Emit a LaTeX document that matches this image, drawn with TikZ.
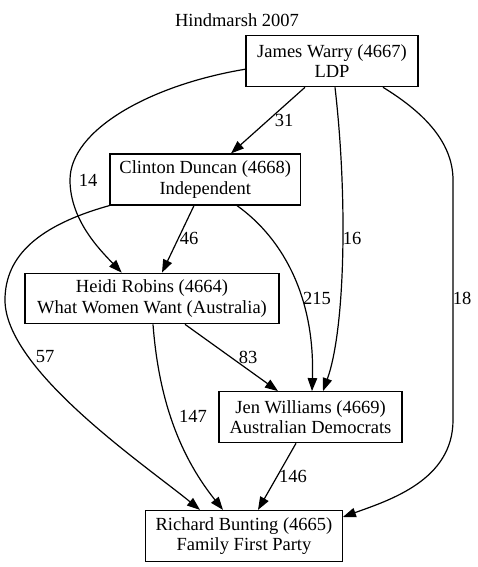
\documentclass[tikz,border=0pt]{standalone}
\usepackage{fontspec}
\setmainfont{Liberation Serif}
\usetikzlibrary{arrows.meta}
\begin{document}
\begin{tikzpicture}[x=1pt,y=-1pt,
  box/.style={draw, line width=1.2pt, inner sep=0pt, align=center, font=\fontsize{18.5}{20.5}\selectfont},
  lbl/.style={inner sep=0pt, font=\fontsize{18.5}{20.5}\selectfont},
  edge/.style={line width=1.2pt, -{Triangle[length=13pt,width=9.5pt]}}]
\useasboundingbox (0,0) rectangle (477,567);
\node[lbl] (title) at (237,20) {Hindmarsh 2007};
\node[box, minimum width=172pt, minimum height=51pt] (warry) at (332,61.2) {James Warry (4667)\\LDP};
\node[box, minimum width=190.7pt, minimum height=51pt] (clinton) at (205.3,179.5) {Clinton Duncan (4668)\\Independent};
\node[box, minimum width=254pt, minimum height=50.5pt] (heidi) at (152,298.5) {Heidi Robins (4664)\\What Women Want (Australia)};
\node[box, minimum width=183pt, minimum height=51pt] (jen) at (310.5,417.2) {Jen Williams (4669)\\Australian Democrats};
\node[box, minimum width=196.6pt, minimum height=51pt] (richard) at (244,536) {Richard Bunting (4665)\\Family First Party};

% Warry -> Clinton
\draw[edge] ([xshift=-27pt]warry.south) -- ([xshift=25.7pt]clinton.north);
\node[lbl] (l31) at (284,120) {31};
% Warry -> Heidi
\draw[edge] ([yshift=-8pt]warry.west) .. controls (150,85) and (70,130) .. (70,180)
  .. controls (70,220) and (100,250) .. ([xshift=-30.3pt]heidi.north);
\node[lbl] (l14) at (88,180) {14};
% Warry -> Jen
\draw[edge] ([xshift=3pt]warry.south) .. controls (348,200) and (345,330) .. ([xshift=12.5pt]jen.north);
\node[lbl] (l16) at (352,238) {16};
% Warry -> Richard
\draw[edge] ([xshift=51pt]warry.south) .. controls (420,110) and (453,140) .. (453,180) -- (453,420)
  .. controls (453,480) and (390,500) .. ([yshift=19pt]richard.east);
\node[lbl] (l18) at (462,298) {18};
% Clinton -> Heidi
\draw[edge] ([xshift=-11.3pt]clinton.south) -- ([xshift=10pt]heidi.north);
\node[lbl] (l46) at (189,238) {46};
% Clinton -> Jen
\draw[edge] ([xshift=31.7pt]clinton.south) .. controls (285,240) and (315,300) .. ([xshift=1.5pt]jen.north);
\node[lbl] (l215) at (317,298) {215};
% Clinton -> Richard
\draw[edge] (clinton.south west) .. controls (40,225) and (5,255) .. (5,300)
  .. controls (5,370) and (145,465) .. ([xshift=-44pt]richard.north);
\node[lbl] (l57) at (45,357) {57};
% Heidi -> Jen
\draw[edge] ([xshift=33pt]heidi.south) -- ([xshift=-32.5pt]jen.north);
\node[lbl] (l83) at (248,357) {83};
% Heidi -> Richard
\draw[edge] ([xshift=1pt]heidi.south) .. controls (158,390) and (175,450) .. ([xshift=-21pt]richard.north);
\node[lbl] (l147) at (193,416) {147};
% Jen -> Richard
\draw[edge] ([xshift=-14.5pt]jen.south) -- ([xshift=14pt]richard.north);
\node[lbl] (l146) at (293,476) {146};
\end{tikzpicture}
\end{document}
